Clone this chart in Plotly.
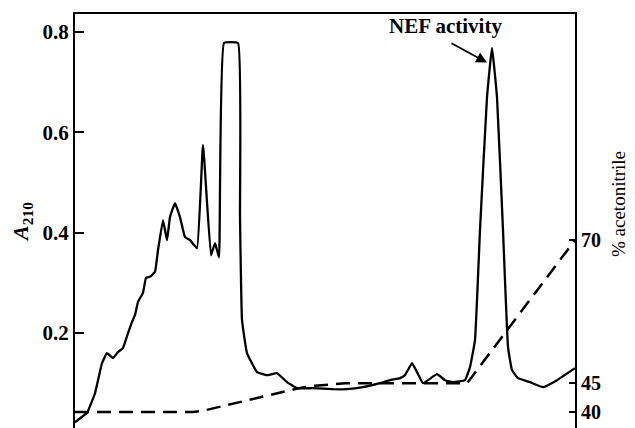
import plotly.graph_objects as go

# Elution time (arbitrary units) and absorbance at 210 nm
time = [0, 0.6, 2.4, 4.0, 5.4, 6.4, 7.6, 8.6, 9.6, 10.6, 11.4, 12.0, 12.6, 13.6, 14.2,
        15.0, 16.0, 16.6, 17.6, 18.4, 19.0, 20.0, 21.0, 22.0, 23.0, 24.4, 25.6, 27.2,
        28.0, 28.8, 29.8, 32.6, 33.0, 33.4, 34.4, 36.4, 38.4, 40.4, 42.4, 44.4, 47.6,
        51.6, 54.4, 57.6, 61.0, 63.0, 65.0, 66.0, 67.4, 68.4, 69.6, 72.4, 74.0, 75.6,
        78.0, 79.0, 80.0, 81.0, 82.4, 83.4, 84.4, 85.6, 86.6, 87.4, 88.6, 91.0, 93.6,
        96.4, 99.4, 100]
a210 = [0.022, 0.027, 0.041, 0.080, 0.140, 0.160, 0.150, 0.162, 0.170, 0.200, 0.222,
        0.236, 0.262, 0.280, 0.310, 0.312, 0.322, 0.365, 0.425, 0.385, 0.431, 0.459,
        0.431, 0.391, 0.385, 0.369, 0.575, 0.355, 0.379, 0.351, 0.778, 0.778, 0.431,
        0.226, 0.160, 0.122, 0.116, 0.120, 0.102, 0.090, 0.090, 0.088, 0.088, 0.092,
        0.100, 0.106, 0.110, 0.116, 0.140, 0.122, 0.100, 0.118, 0.106, 0.102, 0.106,
        0.132, 0.186, 0.405, 0.670, 0.768, 0.670, 0.405, 0.172, 0.126, 0.110, 0.102,
        0.092, 0.106, 0.126, 0.130]

# Acetonitrile gradient (%)
grad_time = [0, 23.6, 25.5, 27.5, 30.4, 33, 35.5, 38, 40.5, 43, 45.5, 48, 51, 54, 78.4, 100]
acetonitrile = [40, 40, 40.2, 40.6, 41.2, 41.7, 42.2, 42.7, 43.2, 43.8, 44.3, 44.6, 44.85,
                45, 45, 70]

left_ticks = [0.2, 0.4, 0.6, 0.8]
left_labels = ["0.2", "0.4", "0.6", "0.8"]
right_ticks = [40, 45, 70]
right_labels = ["40", "45", "70"]

FONT = "Liberation Serif"

fig = go.Figure()
fig.add_trace(go.Scatter(x=time, y=a210, mode="lines",
                         line=dict(color="black", width=2.3, shape="spline", smoothing=0.3),
                         showlegend=False))
fig.add_trace(go.Scatter(x=grad_time, y=acetonitrile, mode="lines", yaxis="y2",
                         line=dict(color="black", width=2.5, dash="14px,8px"),
                         showlegend=False))

# The page body has an 8px margin, so the figure is sized to end at the window edge.
fig.update_layout(
    width=627, height=420,
    margin=dict(l=67, r=60, t=6, b=0),
    paper_bgcolor="white", plot_bgcolor="white",
    xaxis=dict(range=[0, 100], side="top", showline=True, linecolor="black", linewidth=2,
               showticklabels=False, ticks="", showgrid=False, zeroline=False),
    yaxis=dict(range=[0.0107, 0.8358], tickvals=left_ticks, ticktext=left_labels,
               showline=True, linecolor="black", linewidth=2, ticks="inside", ticklen=9,
               tickwidth=2, tickcolor="black", showgrid=False, zeroline=False,
               tickfont=dict(family=FONT, size=21, color="black", weight="bold"),
               title=dict(text="<b><i>A</i><sub>210</sub></b>", standoff=12,
                          font=dict(family=FONT, size=22, color="black"))),
    yaxis2=dict(range=[37.21, 109.46], overlaying="y", side="right", tickvals=right_ticks,
                ticktext=right_labels, showline=True, linecolor="black", linewidth=2,
                ticks="inside", ticklen=6, tickwidth=2, tickcolor="black", showgrid=False,
                zeroline=False,
                tickfont=dict(family=FONT, size=20, color="black", weight="bold")),
    annotations=[
        dict(text="% acetonitrile", xref="paper", yref="paper", x=1.086, y=0.541,
             xanchor="center", yanchor="middle", textangle=-90, showarrow=False,
             font=dict(family=FONT, size=19, color="black")),
        dict(text="<b>NEF activity</b>", xref="x", yref="y", x=74, y=0.812,
             xanchor="center", yanchor="middle", showarrow=False,
             font=dict(family=FONT, size=21, color="black")),
        dict(text="", xref="x", yref="y", x=82.4, y=0.739, ax=75, ay=0.779,
             axref="x", ayref="y", showarrow=True, arrowhead=2, arrowsize=1.2,
             arrowwidth=1.8, arrowcolor="black"),
    ],
)

fig.write_html("out.html")
